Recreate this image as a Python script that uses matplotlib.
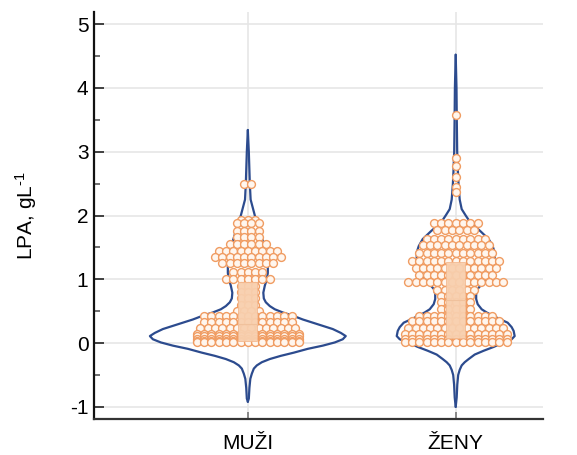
import numpy as np
import matplotlib
matplotlib.use("Agg")
import matplotlib.pyplot as plt
from matplotlib.patches import Rectangle

plt.rcParams['font.family'] = ['Liberation Sans', 'DejaVu Sans']
plt.rcParams['mathtext.fontset'] = 'custom'
plt.rcParams['mathtext.rm'] = 'Liberation Sans'
plt.rcParams['mathtext.default'] = 'regular'

# ---------------- data ----------------
categories = ["MUŽI", "ŽENY"]
y_ticks = [-1, 0, 1, 2, 3, 4, 5]

# dot-plot rows: value of row and number of dots in it
muzi_row_values = [2.50, 1.93, 1.88, 1.76, 1.66, 1.55, 1.45, 1.35, 1.25, 1.12, 1.00,
                   0.90, 0.80, 0.70, 0.60, 0.50, 0.43, 0.33, 0.23, 0.15, 0.11, 0.07, 0.04, 0.01]
muzi_row_counts = [2, 3, 4, 4, 4, 6, 9, 10, 8, 5, 7,
                   3, 3, 3, 3, 4, 13, 13, 14, 15, 15, 15, 15, 15]

zeny_row_values = [3.58, 2.90, 2.77, 2.61, 2.45, 2.37, 1.89, 1.78, 1.63, 1.53, 1.42, 1.29,
                   1.18, 1.07, 0.95, 0.84, 0.74, 0.64, 0.53, 0.43, 0.35, 0.24, 0.14, 0.07, 0.02]
zeny_row_counts = [1, 1, 1, 1, 1, 1, 7, 6, 9, 10, 11, 13,
                   12, 11, 14, 6, 5, 5, 5, 11, 13, 14, 15, 15, 15]

# violin outline: value and relative half-width (density)
muzi_violin_y = [3.34, 3.0, 2.7, 2.5, 2.25, 2.0, 1.87, 1.73, 1.6, 1.47, 1.34, 1.21, 1.1, 1.0,
                 0.9, 0.79, 0.7, 0.64, 0.58, 0.53, 0.48, 0.43, 0.37, 0.32, 0.27, 0.22, 0.16,
                 0.11, 0.06, 0.01, -0.04, -0.09, -0.15, -0.20, -0.25, -0.30, -0.35, -0.40,
                 -0.48, -0.56, -0.7, -0.87, -0.92]
muzi_violin_w = [0, 1.0, 1.6, 2.0, 2.8, 7, 10, 12.5, 15, 17, 19, 20, 20, 19,
                 17, 15.5, 16, 18, 22, 27, 35, 45, 55, 65, 75, 85, 93,
                 98, 95, 87, 75, 60, 46, 33, 22, 14, 9, 6,
                 4, 2.5, 1.6, 1.0, 0]

zeny_violin_y = [4.52, 4.0, 3.5, 3.0, 2.7, 2.5, 2.25, 2.1, 2.0, 1.93, 1.86, 1.75, 1.63, 1.52,
                 1.42, 1.31, 1.21, 1.1, 1.0, 0.92, 0.85, 0.77, 0.69, 0.61, 0.53, 0.48, 0.43,
                 0.37, 0.32, 0.25, 0.19, 0.11, 0.06, 0.01, -0.06, -0.12, -0.18, -0.25,
                 -0.30, -0.35, -0.42, -0.5, -0.65, -0.85, -1.0]
zeny_violin_w = [0, 0.8, 1.1, 1.5, 2.2, 2.8, 4, 6, 10, 13, 17, 25, 33, 37,
                 39, 39, 37, 34, 31, 26, 22, 20.5, 20.5, 22, 26, 31, 37,
                 45, 52, 56, 58, 59, 56, 48, 38, 28, 19, 13,
                 9, 6, 4, 2.5, 1.6, 1.0, 0]

# box (interquartile range) and median
box_q1 = [0.03, 0.08]
box_median = [0.30, 0.67]
box_q3 = [0.95, 1.27]

# ---------------- style ----------------
px_per_x = 208.0            # pixels per category unit
violin_scale = 1.0 / px_per_x
dot_dx = 7.3 / px_per_x
box_width = 0.09

violin_color = "#2c4b8e"
dot_edge = "#f09c62"
box_face = "#f8cfae"
grid_color = "#e6e6e6"

fig = plt.figure(figsize=(5.77, 4.55), dpi=100)
ax = fig.add_axes([94/577, 1-419/455, (543-94)/577, (419-12)/455])

ax.set_xlim(-0.74, 1.42)
ax.set_ylim(-1.19, 5.19)

# grid
for yv in y_ticks:
    ax.axhline(yv, color=grid_color, lw=1.2, zorder=0)
for i in range(len(categories)):
    ax.axvline(i, color=grid_color, lw=1.2, zorder=0)

violins = [(muzi_violin_y, muzi_violin_w), (zeny_violin_y, zeny_violin_w)]
rows = [(muzi_row_values, muzi_row_counts), (zeny_row_values, zeny_row_counts)]

for i in range(len(categories)):
    vy = np.array(violins[i][0])
    vw = np.array(violins[i][1]) * violin_scale
    ax.plot(i + vw, vy, color=violin_color, lw=1.6, zorder=2, solid_capstyle='round')
    ax.plot(i - vw, vy, color=violin_color, lw=1.6, zorder=2, solid_capstyle='round')

    xs, ys = [], []
    for val, cnt in zip(rows[i][0], rows[i][1]):
        for j in range(cnt):
            xs.append(i + (j - (cnt - 1) / 2.0) * dot_dx)
            ys.append(val)
    ax.scatter(xs, ys, s=32, facecolor="#fff6ee", edgecolor=dot_edge, linewidths=1.0, zorder=3)

    ax.add_patch(Rectangle((i - box_width/2, box_q1[i]), box_width, box_q3[i]-box_q1[i],
                           facecolor=box_face, edgecolor="#f3b88e", lw=0.6, alpha=0.95, zorder=4))
    ax.plot([i - box_width/2, i + box_width/2], [box_median[i]]*2, color="#f0c19c", lw=0.8, zorder=5)

# axes styling
for s in ["top", "right"]:
    ax.spines[s].set_visible(False)
ax.spines["left"].set_linewidth(1.6)
ax.spines["left"].set_color("#111111")
ax.spines["bottom"].set_linewidth(1.6)
ax.spines["bottom"].set_color("#333333")

ax.set_yticks(y_ticks)
ax.set_yticklabels([str(v) for v in y_ticks])
ax.set_yticks(np.arange(-0.5, 5.0, 1.0), minor=True)
ax.tick_params(axis='y', which='major', direction='in', length=7, width=1.3,
               color="#333333", labelsize=15, pad=4)
ax.tick_params(axis='y', which='minor', direction='in', length=4, width=1.2, color="#555555")
ax.set_xticks(range(len(categories)))
ax.set_xticklabels(categories)
ax.tick_params(axis='x', direction='in', length=5, width=1.2, color="#777777",
               labelsize=15, pad=11)

ax.set_ylabel(r"LPA, gL$^{\text{-1}}$", fontsize=15, labelpad=22)

fig.savefig("out.png", dpi=100)
